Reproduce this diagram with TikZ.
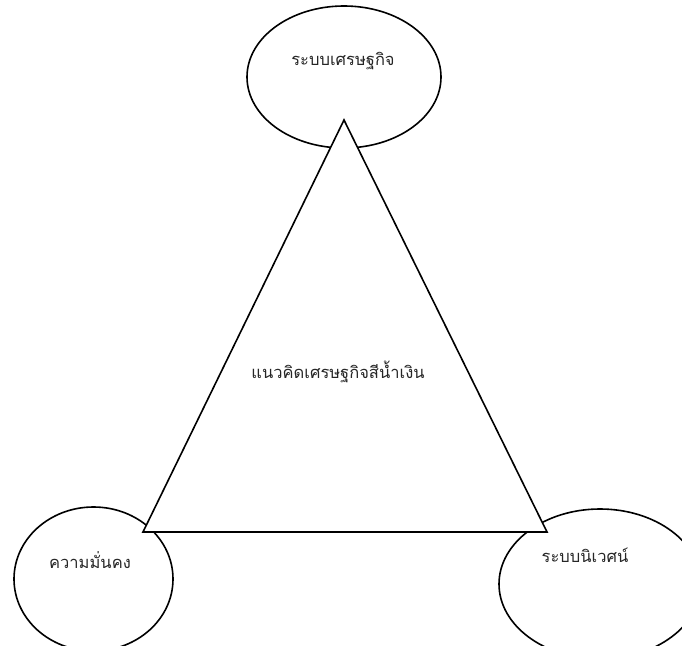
\documentclass[tikz,border=0pt]{standalone}
\usepackage{fontspec}
\newfontfamily\thaifont[Script=Thai]{Loma}
\usetikzlibrary{shapes.geometric}
\begin{document}
\begin{tikzpicture}[x=1pt,y=1pt,
  bubble/.style={draw, line width=1.6pt, ellipse, inner sep=0pt, fill=white},
  lbl/.style={font=\thaifont\fontsize{16.5}{20}\selectfont, text=black!85, inner sep=0pt}]
\clip (0,0) rectangle (682,645);
\fill[white] (0,0) rectangle (682,645);
\node[bubble, minimum width=194pt, minimum height=142pt] (eco) at (344,568) {};
\node[bubble, minimum width=159pt, minimum height=144pt] (sec) at (93.5,66) {};
\node[bubble, minimum width=202pt, minimum height=150pt] (env) at (600,61) {};
\coordinate (apex) at (344,525);
\coordinate (bl) at (143,113);
\coordinate (br) at (547,113);
\filldraw[fill=white, line width=1.6pt, line join=miter] (apex) -- (bl) -- (br) -- cycle;
\node[lbl] (tEco) at (343,584) {ระบบเศรษฐกิจ};
\node[lbl] (tMid) at (338,273) {แนวคิดเศรษฐกิจสีน้ำเงิน};
\node[lbl] (tSec) at (90,85) {ความมั่นคง};
\node[lbl] (tEnv) at (585,90) {ระบบนิเวศน์};
\end{tikzpicture}
\end{document}
